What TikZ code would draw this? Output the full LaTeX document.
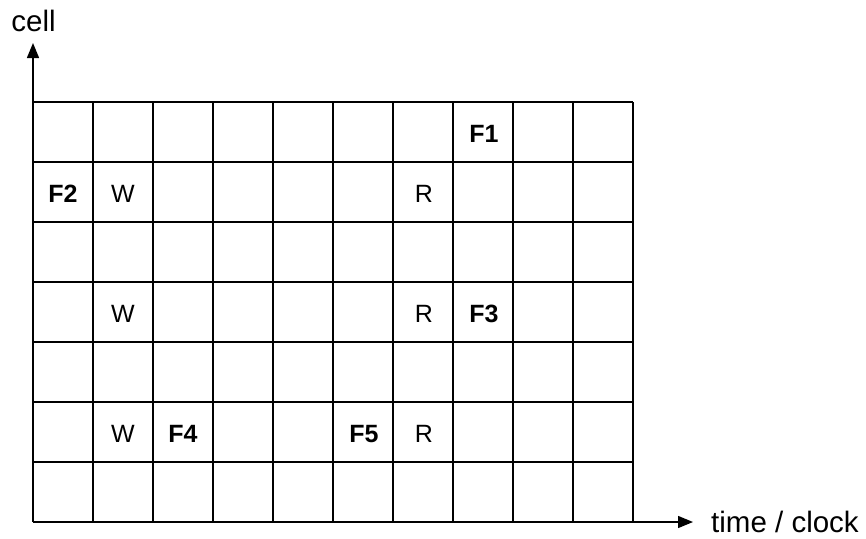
\documentclass[tikz,border=0pt]{standalone}
\usepackage{fontspec}
\setmainfont{Liberation Sans}
\usetikzlibrary{arrows.meta}
\tikzset{
  gridline/.style={line width=1.4pt, black},
  axis/.style={line width=1.4pt, black, -{Triangle[length=15pt,width=12pt]}},
  celltext/.style={font=\fontsize{25}{28}\selectfont, inner sep=0pt, anchor=base},
  boldtext/.style={celltext, font=\fontsize{25}{28}\selectfont\bfseries},
  axislabel/.style={font=\fontsize{29.5}{33}\selectfont, inner sep=0pt, anchor=base}
}
\begin{document}
\begin{tikzpicture}[x=1pt,y=-1pt]
\useasboundingbox (0,0) rectangle (866,538);
\fill[white] (0,0) rectangle (866,538);
% grid
\foreach \i in {0,...,10} {
  \draw[gridline] (33+60*\i,102) -- (33+60*\i,522);
}
\foreach \j in {0,...,7} {
  \draw[gridline] (33,102+60*\j) -- (633,102+60*\j);
}
% axes
\coordinate (origin) at (33,522);
\coordinate (ytip) at (33,43);
\coordinate (xtip) at (693,522);
\draw[axis] (origin) -- (ytip);
\draw[axis] (origin) -- (xtip);
\node[axislabel] (ylabel) at (33.5,31) {cell};
\node[axislabel, anchor=base west] (xlabel) at (711,532) {time / clock};
% cell labels
\node[boldtext] (f1) at (484,142.5) {F1};
\node[boldtext] (f2) at (63,202.5) {F2};
\node[celltext] (w1) at (123,202.5) {W};
\node[celltext] (r1) at (424,202.5) {R};
\node[celltext] (w2) at (123,322.5) {W};
\node[celltext] (r2) at (424,322.5) {R};
\node[boldtext] (f3) at (484,322.5) {F3};
\node[celltext] (w3) at (123,442.5) {W};
\node[boldtext] (f4) at (183,442.5) {F4};
\node[boldtext] (f5) at (364,442.5) {F5};
\node[celltext] (r3) at (424,442.5) {R};
\end{tikzpicture}
\end{document}
